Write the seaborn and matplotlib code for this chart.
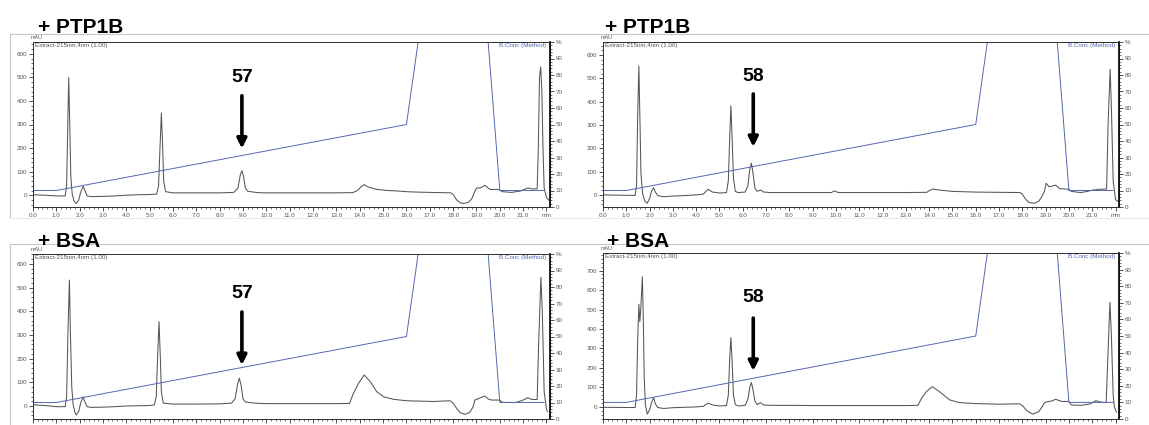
import seaborn as sns
import matplotlib.pyplot as plt
from matplotlib.ticker import MultipleLocator, FixedLocator
from matplotlib.lines import Line2D

# chromatogram traces (time in min, absorbance in mAU)
ptp57_time = [0.0, 0.5, 1.0, 1.38, 1.44, 1.49, 1.53, 1.57, 1.62, 1.68, 1.76, 1.86, 1.96, 2.05, 2.15, 2.22,
              2.32, 2.5, 3.0, 3.5, 4.0, 4.5, 5.0, 5.3, 5.38, 5.44, 5.50, 5.55, 5.60, 5.68, 6.0, 7.0, 8.0,
              8.6, 8.78, 8.88, 8.95, 9.02, 9.1, 9.2, 9.4, 9.6, 10.0, 11.0, 12.0, 13.0, 13.7, 13.9, 14.05,
              14.19, 14.35, 14.7, 15.2, 15.6, 16.0, 16.5, 17.0, 17.5, 17.9, 18.0, 18.15, 18.3, 18.45,
              18.65, 18.8, 18.9, 19.0, 19.2, 19.36, 19.5, 19.6, 19.9, 20.0, 20.1, 20.5, 20.9, 21.2,
              21.35, 21.6, 21.65, 21.7, 21.75, 21.8, 21.85, 21.9, 22.0, 22.1]
ptp57_mau = [2, 0, -3, -3, 40, 300, 500, 320, 80, 5, -25, -35, -20, 15, 38, 20,
             -3, -6, -5, -3, 0, 2, 3, 5, 40, 200, 349, 220, 60, 15, 10, 10, 10,
             12, 30, 85, 104, 80, 30, 17, 14, 11, 10, 10, 10, 10, 11, 20, 35,
             45, 35, 25, 20, 18, 15, 13, 12, 11, 10, 3, -20, -32, -35,
             -30, -15, 10, 30, 32, 42, 30, 24, 25, 22, 15, 12, 18, 31,
             27, 27, 200, 500, 544, 450, 200, 30, -10, -21]

ptp58_time = [0.0, 1.0, 1.38, 1.44, 1.49, 1.54, 1.58, 1.63, 1.70, 1.80, 1.90, 2.0, 2.08, 2.17, 2.25, 2.35,
              2.6, 3.0, 3.5, 4.0, 4.3, 4.51, 4.7, 5.0, 5.3, 5.38, 5.44, 5.49, 5.54, 5.6, 5.68, 5.8,
              6.1, 6.22, 6.30, 6.37, 6.43, 6.52, 6.62, 6.77, 6.9, 7.2, 8.0, 9.0, 9.8, 9.94, 10.1,
              11.0, 12.0, 13.0, 13.9, 14.0, 14.15, 14.5, 15.0, 16.0, 17.0, 17.9, 18.0, 18.15, 18.3,
              18.5, 18.7, 18.85, 18.95, 19.02, 19.15, 19.3, 19.43, 19.6, 20.0, 20.1, 20.5, 20.8,
              21.0, 21.3, 21.62, 21.68, 21.77, 21.83, 21.9, 22.0, 22.1]
ptp58_mau = [0, -2, -2, 40, 350, 553, 350, 90, 5, -28, -36, -15, 15, 31, 12, -3,
             -8, -5, -3, 0, 3, 24, 12, 8, 10, 60, 250, 382, 250, 70, 15, 10,
             12, 40, 110, 136, 100, 30, 15, 21, 12, 10, 10, 10, 10, 17, 10,
             10, 10, 10, 11, 18, 25, 20, 15, 12, 11, 10, 3, -20, -33,
             -36, -28, -5, 15, 50, 35, 38, 42, 27, 24, 15, 10, 15,
             20, 24, 25, 300, 539, 350, 60, -20, -28]

bsa57_time = [0.0, 0.5, 1.0, 1.38, 1.44, 1.50, 1.56, 1.60, 1.66, 1.72, 1.80, 1.86, 1.96, 2.05, 2.15, 2.22,
              2.32, 2.5, 3.0, 3.5, 4.0, 4.5, 5.0, 5.2, 5.28, 5.34, 5.40, 5.45, 5.50, 5.58, 6.0, 7.0,
              8.0, 8.5, 8.66, 8.76, 8.84, 8.91, 9.0, 9.1, 9.4, 9.7, 10.0, 11.0, 12.0, 13.0, 13.56,
              13.73, 13.95, 14.19, 14.45, 14.73, 15.02, 15.45, 16.02, 17.16, 17.87, 18.0, 18.15,
              18.3, 18.5, 18.7, 18.85, 18.93, 19.1, 19.36, 19.5, 19.64, 20.0, 20.1, 20.7, 21.0,
              21.2, 21.35, 21.6, 21.66, 21.76, 21.82, 21.9, 22.0, 22.05]
bsa57_mau = [5, 2, -3, -3, 40, 320, 532, 320, 80, 5, -28, -38, -22, 15, 39, 18,
             -3, -6, -5, -3, 0, 1, 2, 5, 40, 210, 356, 220, 60, 12, 8, 8,
             9, 12, 30, 90, 117, 90, 30, 17, 13, 11, 10, 10, 10, 10, 11,
             54, 96, 131, 103, 60, 39, 28, 22, 19, 22, 12, -10,
             -28, -35, -28, -5, 25, 32, 42, 30, 25, 25, 15, 15, 25,
             35, 28, 27, 250, 544, 400, 60, -15, -24]

bsa58_time = [0.0, 1.0, 1.38, 1.44, 1.49, 1.54, 1.58, 1.62, 1.69, 1.73, 1.77, 1.82, 1.90, 2.0, 2.08, 2.17,
              2.25, 2.35, 2.6, 3.0, 3.5, 4.0, 4.3, 4.51, 4.7, 5.0, 5.3, 5.38, 5.44, 5.49, 5.54, 5.6,
              5.68, 5.8, 6.1, 6.22, 6.30, 6.37, 6.43, 6.52, 6.62, 6.76, 6.9, 7.2, 8.0, 9.0, 10.0,
              11.0, 12.0, 13.0, 13.52, 13.67, 13.88, 14.13, 14.45, 14.88, 15.31, 16.02, 17.02, 17.88,
              18.02, 18.2, 18.44, 18.7, 18.85, 18.94, 19.08, 19.25, 19.43, 19.7, 20.0, 20.1, 20.5,
              20.9, 21.16, 21.35, 21.6, 21.67, 21.76, 21.82, 21.9, 21.95, 22.04]
bsa58_mau = [-2, -3, -3, 60, 350, 527, 437, 500, 668, 450, 150, 10, -37, -15, 20, 48,
             15, -3, -8, -4, -2, 0, 3, 19, 10, 5, 7, 60, 250, 355, 240, 60,
             12, 5, 8, 40, 100, 125, 95, 30, 12, 22, 10, 8, 8, 7, 7,
             7, 7, 7, 8, 44, 78, 104, 78, 36, 22, 17, 14, 16,
             5, -20, -37, -25, 0, 20, 27, 30, 39, 28, 28, 10, 8,
             15, 32, 25, 22, 250, 537, 380, 60, 0, -27]

# B concentration gradient programme (%)
grad_time = [0.0, 1.0, 16.0, 16.5, 19.5, 20.0, 21.9]
grad_conc = [10, 10, 50, 100, 100, 10, 10]

panel_titles = ["+ PTP1B", "+ PTP1B", "+ BSA", "+ BSA"]
compound_labels = ["57", "58", "57", "58"]
arrow_times = [8.95, 6.45, 8.95, 6.45]
traces = [(ptp57_time, ptp57_mau), (ptp58_time, ptp58_mau),
          (bsa57_time, bsa57_mau), (bsa58_time, bsa58_mau)]

# layout in pixels: axes box (left, top, right, bottom), y-limits, label / arrow heights (mAU)
W, H = 1149, 425
boxes = [(33, 42, 550, 207), (603, 42, 1119, 207), (33, 254, 550, 419), (603, 253, 1119, 419)]
ylims = [(-50, 650), (-52, 656), (-55, 642), (-62, 790)]
label_y = [482, 489, 456, 538]
arrow_tail = [422, 433, 397, 456]
arrow_tip = [198, 206, 173, 185]
title_xy = [(38, 33), (605, 33), (38, 247), (607, 247)]

sns.set_style("white")
plt.rcParams["font.family"] = ["Liberation Sans", "DejaVu Sans"]

fig = plt.figure(figsize=(W / 100, H / 100), dpi=100)

# light grey screenshot frames
frame = "#c8c8c8"
for y in (34, 244):
    fig.add_artist(Line2D([10 / W, 1], [1 - y / H, 1 - y / H], color=frame, lw=0.8))
fig.add_artist(Line2D([10 / W, 10 / W], [1 - 34 / H, 1 - 218 / H], color=frame, lw=0.8))
fig.add_artist(Line2D([10 / W, 10 / W], [1 - 244 / H, 0], color=frame, lw=0.8))
fig.add_artist(Line2D([10 / W, 1], [1 - 218 / H, 1 - 218 / H], color="#e6e6e6", lw=0.6))

trace_col = "#555555"
grad_col = "#5566b0"
tick_col = "#555555"

for i, (l, t, r, b) in enumerate(boxes):
    ax = fig.add_axes([l / W, 1 - b / H, (r - l) / W, (b - t) / H])
    ax2 = ax.twinx()

    x, y = traces[i]
    sns.lineplot(x=x, y=y, ax=ax, color=trace_col, linewidth=0.75, estimator=None, sort=False)
    sns.lineplot(x=grad_time, y=grad_conc, ax=ax2, color=grad_col, linewidth=0.7,
                 estimator=None, sort=False)

    ax.set_xlim(0, 22.15)
    ax.set_ylim(*ylims[i])
    ax2.set_ylim(0, 100)

    ax.xaxis.set_major_locator(FixedLocator(range(0, 23)))
    ax.set_xticklabels([f"{v:.1f}" for v in range(0, 22)] + ["min"])
    ax.xaxis.set_minor_locator(MultipleLocator(0.2))
    ax.yaxis.set_major_locator(MultipleLocator(100))
    ax.yaxis.set_minor_locator(MultipleLocator(20))
    ax2.yaxis.set_major_locator(FixedLocator(range(0, 101, 10)))
    ax2.set_yticklabels([str(v) for v in range(0, 100, 10)] + ["%"])
    ax2.yaxis.set_minor_locator(MultipleLocator(2))

    for a in (ax, ax2):
        a.tick_params(which="major", length=3, width=0.6, color="#333333",
                      labelsize=4.5, labelcolor=tick_col, pad=1)
        a.tick_params(which="minor", length=1.5, width=0.5, color="#333333")
        a.set_xlabel("")
        a.set_ylabel("")
        for s in a.spines.values():
            s.set_color("#333333")
            s.set_linewidth(0.7)
    ax2.spines["right"].set_linewidth(1.3)
    ax2.spines["right"].set_color("#111111")
    ax.tick_params(axis="y", which="both", left=True)
    ax.tick_params(axis="x", which="both", bottom=True)

    ax.text(-0.004, 1.015, "mAU", transform=ax.transAxes, fontsize=4, color=tick_col,
            ha="left", va="bottom")
    ax.text(0.003, 0.995, "Extract-215nm,4nm (1.00)", transform=ax.transAxes, fontsize=4.5,
            color=tick_col, ha="left", va="top")
    ax.text(0.993, 0.995, "B.Conc (Method)", transform=ax.transAxes, fontsize=4.5,
            color=grad_col, ha="right", va="top")

    # compound label and arrow
    ax.text(arrow_times[i], label_y[i], compound_labels[i], fontsize=14, fontweight="bold",
            ha="center", va="baseline", color="black")
    ax.annotate("", xy=(arrow_times[i], arrow_tip[i]), xytext=(arrow_times[i], arrow_tail[i]),
                arrowprops=dict(arrowstyle="-|>", lw=2.6, color="black", mutation_scale=14,
                                shrinkA=0, shrinkB=0))

    tx, ty = title_xy[i]
    fig.text(tx / W, 1 - ty / H, panel_titles[i], fontsize=15, fontweight="bold",
             ha="left", va="baseline", color="black")

fig.savefig("out.png", dpi=100)
